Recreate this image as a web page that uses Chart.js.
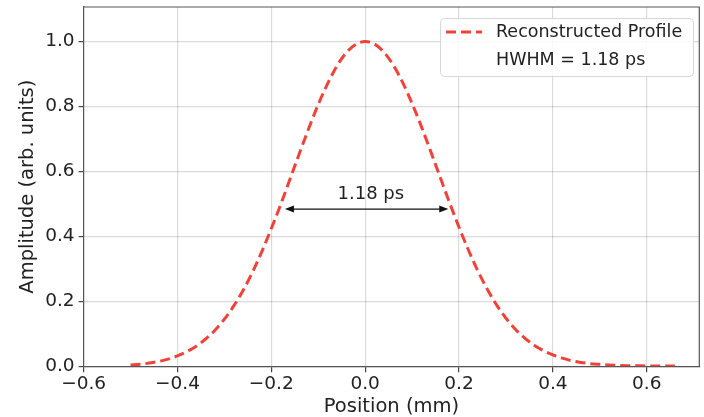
<!DOCTYPE html>
<html>
<head>
<meta charset="utf-8">
<script src="https://cdn.jsdelivr.net/npm/chart.js@4.4.1/dist/chart.umd.min.js"></script>
<style>
  html, body { margin: 0; padding: 0; background: #fff; }
  #wrap { width: 704px; height: 417px; }
</style>
</head>
<body>
<div id="wrap"><canvas id="profileChart" width="704" height="417"></canvas></div>
<script>
// ================= DATA =================
const positions = [
  -0.50, -0.48, -0.46, -0.44, -0.42, -0.40, -0.38, -0.36, -0.34, -0.32,
  -0.30, -0.28, -0.26, -0.24, -0.22, -0.20, -0.18, -0.16, -0.14, -0.12,
  -0.10, -0.08, -0.06, -0.04, -0.02, 0.00, 0.02, 0.04, 0.06, 0.08,
  0.10, 0.12, 0.14, 0.16, 0.18, 0.20, 0.22, 0.24, 0.26, 0.28,
  0.30, 0.32, 0.34, 0.36, 0.38, 0.40, 0.42, 0.44, 0.46, 0.48,
  0.50, 0.52, 0.54, 0.56, 0.58, 0.60, 0.62, 0.64, 0.66
];
const amplitude = [
  0.004, 0.006, 0.010, 0.015, 0.022, 0.032, 0.045, 0.062, 0.084, 0.111,
  0.145, 0.186, 0.234, 0.290, 0.354, 0.424, 0.498, 0.577, 0.656, 0.733,
  0.806, 0.870, 0.925, 0.966, 0.991, 1.000, 0.992, 0.967, 0.927, 0.873,
  0.809, 0.737, 0.660, 0.581, 0.503, 0.428, 0.358, 0.294, 0.238, 0.189,
  0.148, 0.114, 0.087, 0.065, 0.048, 0.035, 0.025, 0.017, 0.012, 0.008,
  0.006, 0.004, 0.003, 0.002, 0.002, 0.001, 0.001, 0.001, 0.001
];
const xTicks = [-0.6, -0.4, -0.2, 0.0, 0.2, 0.4, 0.6];
const yTicks = [0.0, 0.2, 0.4, 0.6, 0.8, 1.0];

const seriesLabel = "Reconstructed Profile";
const hwhmLabel = "HWHM = 1.18 ps";
const arrowText = "1.18 ps";
const arrowFrom = -0.171;
const arrowTo = 0.177;
const arrowLevel = 0.484;
const arrowTextX = 0.012;
const arrowTextY = 0.530;

const FONT = "'DejaVu Sans', sans-serif";
const RED = "rgba(240, 45, 35, 0.9)";

function fmt(v) {
  return v.toFixed(1).replace("-", "\u2212");
}

// ================= PLUGINS =================
const frameAndNotes = {
  id: "frameAndNotes",
  afterDatasetsDraw(chart) {
    const c = chart.ctx;
    const a = chart.chartArea;
    const xs = chart.scales.x;
    const ys = chart.scales.y;

    // top + right spines
    c.save();
    c.strokeStyle = "#555";
    c.lineWidth = 1.2;
    c.beginPath();
    c.moveTo(a.left, a.top);
    c.lineTo(a.right, a.top);
    c.lineTo(a.right, a.bottom);
    c.stroke();

    // double arrow
    const x1 = xs.getPixelForValue(arrowFrom);
    const x2 = xs.getPixelForValue(arrowTo);
    const yy = ys.getPixelForValue(arrowLevel);
    c.strokeStyle = "#111";
    c.fillStyle = "#111";
    c.lineWidth = 1.3;
    c.beginPath();
    c.moveTo(x1 + 4, yy);
    c.lineTo(x2 - 4, yy);
    c.stroke();
    c.beginPath();
    c.moveTo(x1, yy);
    c.lineTo(x1 + 9, yy - 3.5);
    c.lineTo(x1 + 9, yy + 3.5);
    c.closePath();
    c.fill();
    c.beginPath();
    c.moveTo(x2, yy);
    c.lineTo(x2 - 9, yy - 3.5);
    c.lineTo(x2 - 9, yy + 3.5);
    c.closePath();
    c.fill();

    c.font = "18px " + FONT;
    c.fillStyle = "#222";
    c.textAlign = "center";
    c.textBaseline = "middle";
    c.fillText(arrowText, xs.getPixelForValue(arrowTextX), ys.getPixelForValue(arrowTextY));

    // legend box
    const bx = 440, by = 18, bw = 253, bh = 58;
    c.fillStyle = "rgba(255,255,255,0.85)";
    c.strokeStyle = "#d8d8d8";
    c.lineWidth = 1;
    c.beginPath();
    c.roundRect(bx + 0.5, by + 0.5, bw, bh, 4);
    c.fill();
    c.stroke();

    c.strokeStyle = RED;
    c.lineWidth = 3;
    c.setLineDash([10, 5]);
    c.beginPath();
    c.moveTo(446, 32);
    c.lineTo(482, 32);
    c.stroke();
    c.setLineDash([]);

    c.fillStyle = "#222";
    c.font = "17.5px " + FONT;
    c.textAlign = "left";
    c.fillText(seriesLabel, 496, 32);
    c.fillText(hwhmLabel, 496, 60);
    c.restore();
  }
};

// ================= CHART =================
const ctx = document.getElementById("profileChart");

const chart = new Chart(ctx, {
  type: "line",
  data: {
    datasets: [
      {
        label: seriesLabel,
        data: positions.map((p, i) => ({ x: p, y: amplitude[i] })),
        borderColor: RED,
        borderWidth: 3,
        borderDash: [10, 5],
        pointRadius: 0,
        cubicInterpolationMode: "monotone",
        fill: false,
      },
    ],
  },
  options: {
    responsive: false,
    devicePixelRatio: 1,
    animation: false,
    layout: { padding: { top: 7, right: 4.7, left: 0, bottom: 0 } },
    plugins: { legend: { display: false }, tooltip: { enabled: false } },
    scales: {
      x: {
        type: "linear",
        min: -0.6,
        max: 0.712,
        afterBuildTicks: (s) => { s.ticks = xTicks.map((v) => ({ value: v })); },
        afterFit: (s) => {
          s.height = 50.7;
          s.paddingLeft = 0;
          s.paddingRight = 0;
        },
        ticks: {
          callback: (v) => fmt(v),
          font: { family: FONT, size: 18.5 },
          color: "#222",
          padding: 1,
          maxRotation: 0,
        },
        grid: { color: "rgba(0,0,0,0.14)", lineWidth: 1.2, tickColor: "#444", tickLength: 6 },
        border: { display: true, color: "#555", width: 1.2 },
        title: {
          display: true,
          text: "Position (mm)",
          font: { family: FONT, size: 19.5, lineHeight: 1.0 },
          color: "#222",
          padding: { top: 0, bottom: 0 },
        },
      },
      y: {
        min: 0,
        max: 1.106,
        afterBuildTicks: (s) => { s.ticks = yTicks.map((v) => ({ value: v })); },
        afterFit: (s) => {
          s.width = 83.6;
          s.paddingTop = 0;
          s.paddingBottom = 0;
        },
        ticks: {
          callback: (v) => fmt(v),
          font: { family: FONT, size: 18.5 },
          color: "#222",
          padding: 4,
        },
        grid: { color: "rgba(0,0,0,0.14)", lineWidth: 1.2, tickColor: "#444", tickLength: 5 },
        border: { display: true, color: "#555", width: 1.2 },
        title: {
          display: true,
          text: "Amplitude (arb. units)",
          font: { family: FONT, size: 19.5, lineHeight: 1.2 },
          color: "#222",
          padding: { top: 16, bottom: 0 },
        },
      },
    },
  },
  plugins: [frameAndNotes],
});
</script>
</body>
</html>
